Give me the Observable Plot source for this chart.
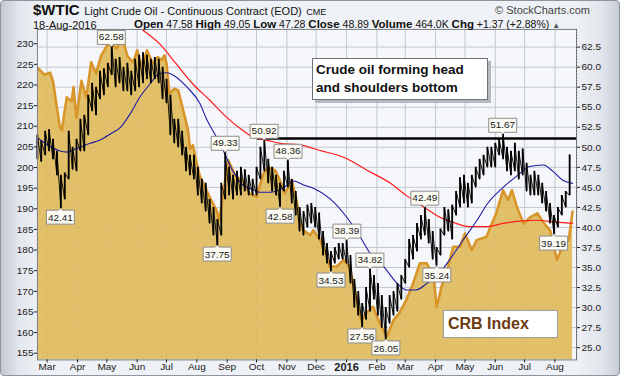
<!DOCTYPE html>
<html><head><meta charset="utf-8">
<script src="https://cdn.jsdelivr.net/npm/d3@7"></script>
<script src="https://cdn.jsdelivr.net/npm/@observablehq/plot@0.6"></script>
<style>
html,body{margin:0;padding:0;background:#fff;}
#wrap{position:relative;width:618px;height:374px;border:1px solid #8e939c;border-radius:4px;overflow:hidden;
 background:linear-gradient(to right,#c3c8d2 0px,#e3e7ee 18px,#eef1f5 40px,#eef1f5 575px,#e2e6ec 600px,#c8ccd5 618px);
 font-family:"Liberation Sans",Arial,sans-serif;color:#111;}
#chart{position:absolute;left:-1px;top:-1px;}
.ab{position:absolute;white-space:nowrap;line-height:1;}
.note{position:absolute;background:#fff;border:1px solid #6f737a;box-shadow:3px 3px 0 #b4b8bf;}
</style></head>
<body>
<div id="wrap">
 <div id="chart"></div>
 <div class="ab" style="left:32px;top:1px;"><span style="font-weight:bold;font-size:15px;">$WTIC</span> <span style="font-size:11px;">Light Crude Oil - Continuous Contract (EOD)</span> <span style="font-size:9px;">CME</span></div>
 <div class="ab" style="right:29px;top:4px;font-size:11px;color:#444;">© StockCharts.com</div>
 <div class="ab" style="left:32px;top:19px;font-size:11px;">18-Aug-2016</div>
 <div class="ab" style="left:133px;top:18px;font-size:10.5px;"><b style="font-size:11.5px">Open</b> 47.58 <b style="font-size:11.5px">High</b> 49.05 <b style="font-size:11.5px">Low</b> 47.28 <b style="font-size:11.5px">Close</b> 48.89 <b style="font-size:11.5px">Volume</b> 464.0K <b style="font-size:11.5px">Chg</b> +1.37 (+2.88%) <span style="font-size:8px;color:#555">▲</span></div>
 <div class="note" style="left:311px;top:57px;width:176px;height:42px;font-weight:bold;font-size:13.5px;line-height:18px;padding:2px 0 0 3px;box-sizing:border-box;">Crude oil forming head<br>and shoulders bottom</div>
 <div class="note" style="left:442px;top:309px;width:115px;height:28px;font-size:16px;font-weight:bold;line-height:26px;padding-left:4px;box-sizing:border-box;color:#6b3a10;box-shadow:none;border-color:#9a9ea5;">CRB Index</div>
</div>
<script>
// ---- DATA ----
const crb = [["2015-02-20",224],["2015-02-26",222.5],["2015-03-04",223],["2015-03-07",221],["2015-03-10",216],["2015-03-14",209.8],["2015-03-16",209],["2015-03-21",217],["2015-03-26",216],["2015-03-28",219.5],["2015-03-31",212],["2015-04-05",221],["2015-04-10",217],["2015-04-15",225.5],["2015-04-20",222.8],["2015-04-25",227],["2015-05-01",229.5],["2015-05-06",230],["2015-05-11",228.8],["2015-05-15",230.8],["2015-05-18",230.5],["2015-05-22",227],["2015-05-28",225.5],["2015-06-01",228.4],["2015-06-06",224.3],["2015-06-11",228.4],["2015-06-17",225.2],["2015-06-22",226.8],["2015-06-26",226],["2015-06-29",227.2],["2015-07-01",225.2],["2015-07-04",217.9],["2015-07-09",219.1],["2015-07-13",218.7],["2015-07-18",213.9],["2015-07-23",209],["2015-07-25",204.5],["2015-07-28",205.4],["2015-07-31",202],["2015-08-04",198],["2015-08-14",192.9],["2015-08-21",189.7],["2015-08-24",187.2],["2015-08-29",195.3],["2015-09-02",201.8],["2015-09-10",197.7],["2015-09-17",196.9],["2015-09-24",193.7],["2015-10-01",192.9],["2015-10-08",198.5],["2015-10-13",200.1],["2015-10-20",199.3],["2015-10-25",196.9],["2015-10-30",193.7],["2015-11-06",196.9],["2015-11-11",192],["2015-11-14",187.2],["2015-11-18",184.8],["2015-11-25",183.6],["2015-11-28",184.8],["2015-12-05",182.4],["2015-12-12",178.4],["2015-12-15",176],["2015-12-22",176],["2015-12-29",177.6],["2016-01-04",176],["2016-01-11",168.7],["2016-01-16",163],["2016-01-21",164.7],["2016-01-28",166.3],["2016-02-04",162.3],["2016-02-11",159],["2016-02-18",163],["2016-02-24",164.7],["2016-03-02",167.9],["2016-03-09",171.9],["2016-03-16",176.8],["2016-03-23",176.8],["2016-03-30",173.5],["2016-04-02",166.3],["2016-04-04",167.9],["2016-04-07",171.1],["2016-04-12",174.4],["2016-04-19",180.8],["2016-04-26",180.8],["2016-05-01",184],["2016-05-08",180],["2016-05-13",182.4],["2016-05-23",183.2],["2016-06-02",188.9],["2016-06-09",194.5],["2016-06-14",192.1],["2016-06-18",194.5],["2016-06-23",190.5],["2016-06-30",186.4],["2016-07-07",188],["2016-07-14",188.9],["2016-07-21",186.4],["2016-07-27",184.8],["2016-08-03",177.6],["2016-08-10",181.6],["2016-08-15",182.4],["2016-08-19",189.3]];

// WTIC price ranges, one bar every 4 calendar days starting at wticStart
const wticStart = "2015-02-19";
const wticLow  = [48.5,48.2,49.0,49.5,48.5,46.5,42.41,43.5,46.0,47.2,47.0,49.5,49.5,51.5,54.5,54.0,56.0,56.5,57.5,59.0,57.5,58.0,57.0,57.0,56.5,57.0,57.5,58.0,58.5,58.0,58.5,58.0,56.0,55.5,51.5,50.5,50.0,49.0,47.0,46.5,46.0,44.0,43.0,42.0,40.5,39.0,37.75,39.0,43.5,44.0,43.5,44.0,44.0,44.5,44.0,44.0,44.0,46.0,47.0,45.5,44.5,44.0,42.58,44.5,45.0,43.0,41.5,39.5,39.0,40.0,40.5,40.0,38.5,36.5,35.5,34.53,35.5,36.0,36.0,35.5,33.0,30.0,29.0,27.56,28.5,29.5,31.0,29.0,27.5,26.05,28.0,29.0,29.5,31.0,33.0,35.0,36.0,37.0,38.5,39.0,38.0,36.0,35.24,36.5,39.0,39.5,38.5,41.5,42.5,43.0,42.5,43.0,45.0,46.0,46.5,47.5,47.5,47.5,49.0,48.5,47.0,46.5,47.0,46.0,46.5,44.5,44.0,44.0,44.0,43.0,42.0,40.5,39.19,40.0,41.5,42.5,44.0];
const wticHigh = [51.5,50.8,52.0,52.2,51.0,49.5,46.5,46.8,52.0,50.0,51.0,53.5,54.0,56.5,58.0,57.5,59.5,59.8,60.5,62.58,61.0,61.2,60.0,60.5,59.5,61.0,61.5,61.8,61.5,61.0,61.2,61.0,60.0,58.5,56.5,53.5,53.5,52.0,50.0,49.0,49.0,47.5,46.0,45.5,43.5,42.5,41.0,45.5,49.33,47.5,46.5,47.0,47.5,47.2,46.5,46.0,47.5,50.0,50.92,48.5,47.5,46.5,45.5,47.0,48.36,46.0,44.5,42.5,42.0,42.8,43.0,42.5,41.8,39.5,38.0,37.0,37.5,38.0,38.0,38.39,36.5,33.5,32.0,30.5,32.5,34.82,34.0,33.0,31.5,30.0,31.5,32.0,33.0,34.0,36.0,38.5,39.0,40.5,41.5,42.49,41.0,39.5,37.5,39.8,42.5,42.2,42.8,44.5,46.2,46.5,45.5,46.5,47.5,48.5,49.0,50.0,50.0,50.5,51.0,51.67,50.0,49.5,50.5,49.5,49.8,48.0,46.5,47.0,46.5,45.5,44.5,43.0,41.5,42.5,44.0,44.5,49.05];

const ma50 = [["2015-02-20",51.1],["2015-03-21",49.4],["2015-03-31",49.85],["2015-04-14",50.5],["2015-04-24",50.9],["2015-05-05",51.7],["2015-05-15",52.5],["2015-05-25",54.2],["2015-06-04",56.3],["2015-06-14",57.9],["2015-06-24",59.2],["2015-07-01",59.3],["2015-07-08",59.0],["2015-07-22",57.5],["2015-08-04",55.5],["2015-08-11",53.5],["2015-08-21",51.3],["2015-08-28",49.6],["2015-09-07",47.0],["2015-09-17",45.3],["2015-09-28",44.7],["2015-10-04",44.4],["2015-10-15",44.4],["2015-10-28",44.9],["2015-11-08",45.8],["2015-11-18",45.3],["2015-11-28",44.9],["2015-12-15",43.6],["2016-01-01",41.3],["2016-01-15",38.8],["2016-01-25",36.8],["2016-02-08",35.1],["2016-02-22",33.0],["2016-03-02",32.2],["2016-03-12",32.2],["2016-03-23",33.0],["2016-04-05",34.3],["2016-04-15",35.9],["2016-04-29",38.4],["2016-05-16",41.4],["2016-05-23",42.8],["2016-06-09",45.0],["2016-06-26",46.7],["2016-07-06",47.6],["2016-07-20",47.8],["2016-07-30",47.0],["2016-08-09",45.9],["2016-08-19",45.5]];

const ma200 = [["2015-05-14",67.0],["2015-06-07",64.6],["2015-06-24",62.9],["2015-07-11",60.4],["2015-07-28",57.9],["2015-08-14",55.9],["2015-08-31",53.8],["2015-09-17",52.1],["2015-09-27",51.3],["2015-10-11",50.9],["2015-10-25",50.5],["2015-11-14",50.3],["2015-12-05",49.6],["2016-01-01",48.6],["2016-01-21",47.2],["2016-02-15",45.5],["2016-03-02",44.0],["2016-03-19",42.6],["2016-04-05",41.3],["2016-04-22",40.5],["2016-05-05",40.1],["2016-05-23",40.1],["2016-06-09",40.5],["2016-06-26",40.8],["2016-07-13",40.9],["2016-07-30",40.7],["2016-08-19",40.5]];

const highLabels = [["2015-05-06",62.58],["2015-08-30",49.33],["2015-10-09",50.92],["2015-11-02",48.36],["2016-01-01",38.39],["2016-01-25",34.82],["2016-03-21",42.49],["2016-06-09",51.67]];
const lowLabels  = [["2015-03-15",42.41],["2015-08-22",37.75],["2015-10-25",42.58],["2015-12-16",34.53],["2016-01-17",27.56],["2016-02-10",26.05],["2016-04-02",35.24],["2016-07-31",39.19]];

const neckline = {value: 51.1, from: "2015-10-02", to: "2016-08-23"};
const crbTicks  = [155,160,165,170,175,180,185,190,195,200,205,210,215,220,225,230];
const wticTicks = [25,27.5,30,32.5,35,37.5,40,42.5,45,47.5,50,52.5,55,57.5,60,62.5];
const monthStart = "2015-03-01", monthEnd = "2016-08-02";
const xRange = ["2015-02-19T02:00", "2016-08-23T02:00"];

// ---- CHART ----
const parse = s => new Date(s.length > 10 ? s + ":00Z" : s + "T00:00:00Z");
// CRB (left axis) mapped into the WTIC (right axis) coordinate space
const toW = c => 62.5 - ((43.3 + (230 - c) * 4.133) - 46.7) / 8.027;
const fromW = w => 230 - ((46.7 + (62.5 - w) * 8.027) - 43.3) / 4.133;
const yDomain = [23.47, 64.705];

const crbData = crb.map(([d, v]) => ({date: parse(d), w: toW(v)}));
const start = parse(wticStart);
const wtic = wticLow.map((lo, i) => ({date: d3.utcDay.offset(start, 4 * i), low: lo, high: wticHigh[i]}));
const wticPath = wtic.flatMap(d => [{date: d.date, v: d.low}, {date: d.date, v: d.high}]);
const ma50Data = ma50.map(([d, v]) => ({date: parse(d), v}));
const ma200Data = ma200.map(([d, v]) => ({date: parse(d), v}));
const hiData = highLabels.map(([d, v]) => ({date: parse(d), v, t: v.toFixed(2)}));
const loData = lowLabels.map(([d, v]) => ({date: parse(d), v, t: v.toFixed(2)}));
const months = d3.utcMonth.range(parse(monthStart), parse(monthEnd));
const monthsNoJan = months.filter(d => d.getUTCMonth() !== 0);
const jan = months.filter(d => d.getUTCMonth() === 0);
const x0 = parse(xRange[0]), x1 = parse(xRange[1]);

const tipOpts = {x: "date", y: "v", title: "t", fill: "#fbfaf2", stroke: "#8c8c8c", fontSize: 10,
  fontFamily: "'Liberation Sans', Arial, sans-serif", textPadding: 1.5, pointerSize: 4, pathFilter: "none"};

const chart = Plot.plot({
  width: 620, height: 376,
  marginLeft: 37, marginRight: 43, marginTop: 29, marginBottom: 16,
  x: {type: "utc", domain: [x0, x1], label: null},
  y: {domain: yDomain, label: null},
  style: {background: "transparent", fontFamily: "'Liberation Sans', Arial, sans-serif", fontSize: "10px", color: "#1a1a1a", overflow: "visible"},
  marks: [
    Plot.frame({fill: "#f5f7fa", stroke: null}),
    Plot.gridY(wticTicks, {stroke: "#c3c8d0", strokeOpacity: 1}),
    Plot.gridX(months, {stroke: "#c3c8d0", strokeOpacity: 1}),
    Plot.areaY(crbData, {x: "date", y1: yDomain[0], y2: "w", fill: "#e0b95a", fillOpacity: 0.9, clip: true}),
    Plot.lineY(crbData, {x: "date", y: "w", stroke: "#d8952a", strokeWidth: 2.6, clip: true}),
    Plot.ruleY([neckline], {y: "value", x1: d => parse(d.from), x2: d => parse(d.to), stroke: "black", strokeWidth: 2.6}),
    Plot.line(ma200Data, {x: "date", y: "v", stroke: "#ff1a1a", strokeWidth: 1.2, curve: "monotone-x", clip: true}),
    Plot.line(ma50Data, {x: "date", y: "v", stroke: "#1c1ca4", strokeWidth: 1.1, curve: "monotone-x", clip: true}),
    Plot.line(wticPath, {x: "date", y: "v", stroke: "black", strokeWidth: 0.9}),
    Plot.ruleX(wtic, {x: "date", y1: "low", y2: "high", stroke: "black", strokeWidth: 1.8}),
    Plot.tip(hiData, {...tipOpts, anchor: "bottom"}),
    Plot.tip(loData, {...tipOpts, anchor: "top"}),
    Plot.frame({stroke: "#7a7f88"}),
    Plot.ruleX([x1], {stroke: "#555", strokeDasharray: "1 2"}),
    Plot.axisY(crbTicks.map(toW), {anchor: "left", tickSize: 3, tickPadding: 1, tickFormat: d => String(Math.round(fromW(d))), fontSize: 10}),
    Plot.axisY(wticTicks, {anchor: "right", tickSize: 3, tickPadding: 2, tickFormat: d => d.toFixed(1), fontSize: 10}),
    Plot.axisX(monthsNoJan, {anchor: "bottom", tickSize: 3, tickPadding: 0, tickFormat: d3.utcFormat("%b"), fontSize: 10}),
    Plot.axisX(jan, {anchor: "bottom", tickSize: 3, tickPadding: 0, tickFormat: () => "2016", fontSize: 11, fontWeight: "bold"})
  ]
});
document.getElementById("chart").appendChild(chart);
</script>
</body></html>
